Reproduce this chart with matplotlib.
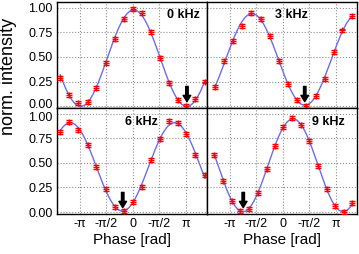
"""
Normalised intensity vs phase for four modulation frequencies (2x2 panels)
"""

import matplotlib
matplotlib.use("Agg")
import matplotlib.pyplot as plt
import matplotlib.transforms as mtransforms
import numpy as np

plt.rcParams['font.family'] = ['Liberation Sans', 'DejaVu Sans']

# phase positions of the measured points [rad]
x_left = [-4.31, -3.77, -3.25, -2.68, -2.17, -1.60, -1.08, -0.54, -0.02,
          0.52, 1.07, 1.62, 2.13, 2.67, 3.17, 3.71, 4.27]
x_3khz = [-4.05, -3.50, -2.96, -2.43, -1.87, -1.30, -0.77, -0.23,
          0.30, 0.86, 1.39, 1.97, 2.48, 3.02, 3.53, 4.10]
x_9khz = [-4.07, -3.54, -3.02, -2.52, -2.01, -1.49, -0.96, -0.44, 0.03,
          0.53, 1.09, 1.58, 2.10, 2.61, 3.11, 3.63, 4.10]

# normalised intensities
y_0khz = [0.29, 0.11, 0.03, 0.04, 0.18, 0.44, 0.685, 0.885, 0.99,
          0.95, 0.75, 0.49, 0.235, 0.06, 0.0, 0.075, 0.25]
y_3khz = [0.195, 0.455, 0.66, 0.82, 0.945, 0.885, 0.715, 0.455,
          0.22, 0.06, 0.005, 0.10, 0.28, 0.55, 0.77, 0.92]
y_6khz = [0.815, 0.915, 0.84, 0.68, 0.46, 0.23, 0.055, 0.01, 0.10,
          0.255, 0.53, 0.745, 0.93, 0.905, 0.795, 0.58, 0.375]
y_9khz = [0.585, 0.32, 0.11, 0.01, 0.03, 0.19, 0.44, 0.67, 0.87,
          0.955, 0.89, 0.72, 0.47, 0.23, 0.065, 0.005, 0.09]
err = 0.02

labels = ['0 kHz', '3 kHz', '6 kHz', '9 kHz']
label_pos = [(0.84, 0.875), (0.56, 0.875), (0.56, 0.865), (0.81, 0.865)]
arrow_x = [3.21, 1.30, -0.60, -2.35]

xticks = [-np.pi, -np.pi/2, 0, np.pi/2, np.pi]
xticklabels = ['-π', '-π/2', '0', '-π/2', 'π']


def cos_fit(x, y):
    # least squares a + b cos(wx) + c sin(wx), scanning w
    x = np.asarray(x)
    y = np.asarray(y)
    best = None
    for w in np.linspace(0.85, 1.25, 401):
        A = np.column_stack([np.ones_like(x), np.cos(w*x), np.sin(w*x)])
        p, res, _, _ = np.linalg.lstsq(A, y, rcond=None)
        r = np.sum((A @ p - y)**2)
        if best is None or r < best[0]:
            best = (r, w, p)
    _, w, p = best
    xf = np.linspace(x.min(), x.max(), 300)
    return xf, p[0] + p[1]*np.cos(w*xf) + p[2]*np.sin(w*xf)


fig, axes = plt.subplots(2, 2, figsize=(3.59, 2.54), dpi=100)
plt.subplots_adjust(left=0.1588, right=0.9944, top=0.992, bottom=0.1575,
                    wspace=0, hspace=0)

data = [(x_left, y_0khz), (x_3khz, y_3khz), (x_left, y_6khz), (x_9khz, y_9khz)]

for i, ax in enumerate(axes.flat):
    xs, ys = data[i]
    xf, yf = cos_fit(xs, ys)
    ax.plot(xf, yf, color='#6b6bf5', lw=1.0, zorder=2)
    ax.errorbar(xs, ys, yerr=err, fmt='+', color='#ff0000', ms=4.5, mew=1.0,
                elinewidth=1.0, capsize=2, capthick=1.0, zorder=3)
    ax.annotate('', xy=(arrow_x[i], 0.045), xytext=(arrow_x[i], 0.20),
                arrowprops=dict(facecolor='black', edgecolor='black', width=1.8,
                                headwidth=5.5, headlength=4.5, shrink=0),
                zorder=4)
    ax.text(label_pos[i][0], label_pos[i][1], labels[i], transform=ax.transAxes,
            ha='center', va='center', fontsize=9, fontweight='bold')
    ax.set_xlim(-4.5, 4.4)
    ax.set_ylim(-0.02, 1.06)
    ax.set_xticks(xticks)
    ax.set_yticks([0, 0.25, 0.5, 0.75, 1.0])
    ax.grid(True, ls=':', color='#909090', lw=0.8)
    ax.tick_params(length=0, labelsize=9, pad=3)
    for s in ax.spines.values():
        s.set_linewidth(1.0)
    if i % 2 == 0:
        ax.set_yticklabels(['0.00', '0.25', '0.50', '0.75', '1.00'])
        tl = ax.get_yticklabels()
        # nudge the labels at the shared boundary apart
        if i == 0:
            tl[0].set_transform(tl[0].get_transform() +
                                mtransforms.ScaledTranslation(0, 3/100, fig.dpi_scale_trans))
        else:
            tl[-1].set_transform(tl[-1].get_transform() +
                                 mtransforms.ScaledTranslation(0, -3/100, fig.dpi_scale_trans))
    else:
        ax.set_yticklabels([])
    if i >= 2:
        ax.set_xticklabels(xticklabels)
        ax.set_xlabel('Phase [rad]', fontsize=11, labelpad=2)
    else:
        ax.set_xticklabels([])

fig.text(0.024, 0.70, 'norm. intensity', rotation=90, ha='center', va='center',
         fontsize=13)

plt.savefig('out.png', dpi=100)
